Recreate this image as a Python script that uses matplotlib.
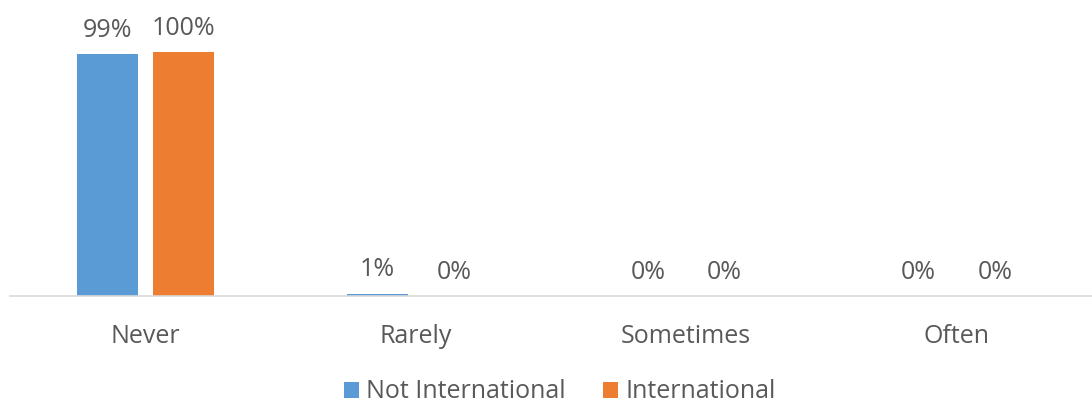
import matplotlib
matplotlib.use("Agg")
import matplotlib.pyplot as plt
import numpy as np

categories = ["Never", "Rarely", "Sometimes", "Often"]
not_international = [99, 1, 0, 0]
international = [100, 0, 0, 0]
series_names = ["Not International", "International"]
colors = ["#5B9BD5", "#ED7D31"]
text_color = "#595959"

plt.rcParams['font.family'] = ['Open Sans', 'DejaVu Sans']

fig = plt.figure(figsize=(10.92, 4.09), dpi=100)
ax = fig.add_axes([10/1092, 1-296/409, 1082/1092, 286/409])

x = np.arange(len(categories))
w = 0.225
off = 0.141
b1 = ax.bar(x - off, not_international, w, color=colors[0], label=series_names[0])
b2 = ax.bar(x + off, international, w, color=colors[1], label=series_names[1])

for bars, vals in ((b1, not_international), (b2, international)):
    for r, v in zip(bars, vals):
        ax.annotate(f"{v}%", (r.get_x() + r.get_width()/2, v), xytext=(0, 12.5),
                    textcoords="offset points", ha="center", va="baseline",
                    fontsize=18, color=text_color)

ax.set_xlim(-0.5, len(categories) - 0.5)
ax.set_ylim(0, 100 * 286 / 244)
ax.set_yticks([])
ax.set_xticks(x)
ax.set_xticklabels(categories, fontsize=18, color=text_color)
ax.tick_params(axis='x', length=0, pad=20.5)
for s in ["top", "right", "left"]:
    ax.spines[s].set_visible(False)
ax.spines["bottom"].set_color("#D9D9D9")
ax.spines["bottom"].set_linewidth(1.2)

leg = fig.legend(handles=[b1, b2], labels=series_names, loc="center",
                 bbox_to_anchor=(560/1092, 1-392/409), ncol=2, frameon=False,
                 fontsize=18, handlelength=0.6, handleheight=0.6, handletextpad=0.3,
                 columnspacing=1.5)
for t in leg.get_texts():
    t.set_color(text_color)

fig.savefig("out.png", dpi=100)
